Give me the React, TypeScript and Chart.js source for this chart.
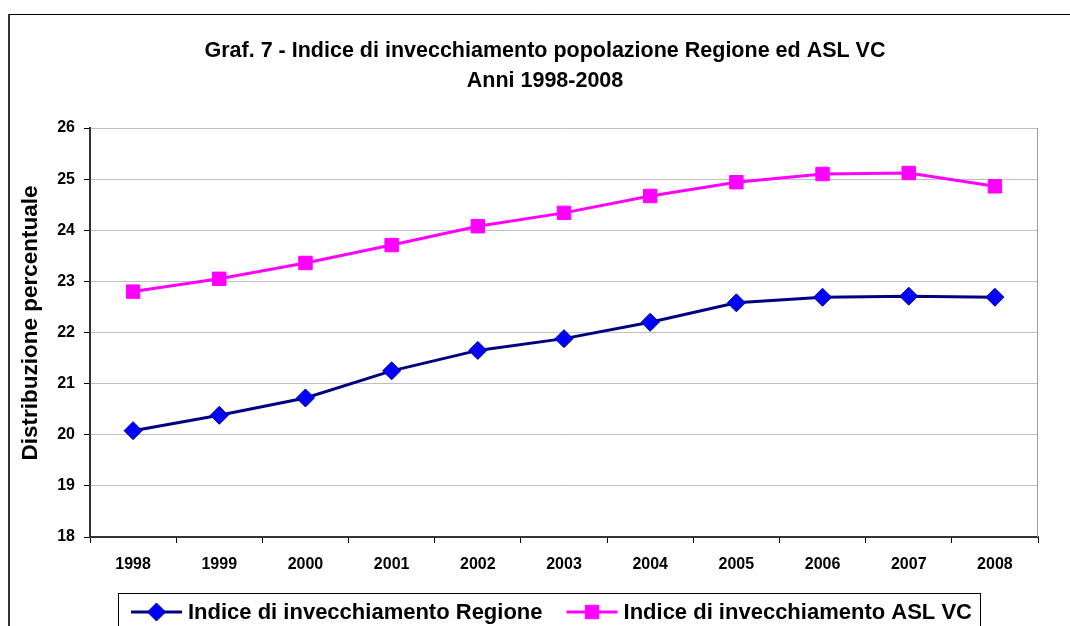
import { useEffect, useRef } from "react";
import { Chart, registerables } from "chart.js";

Chart.register(...registerables);

const categories = ["1998", "1999", "2000", "2001", "2002", "2003", "2004", "2005", "2006", "2007", "2008"];
const regioneValues = [20.08, 20.38, 20.72, 21.25, 21.65, 21.88, 22.2, 22.58, 22.69, 22.71, 22.69];
const aslValues = [22.8, 23.05, 23.36, 23.71, 24.08, 24.34, 24.67, 24.94, 25.1, 25.12, 24.86];
const seriesLabels = ["Indice di invecchiamento Regione", "Indice di invecchiamento ASL VC"];
const titleLines = ["Graf. 7 - Indice di invecchiamento popolazione Regione ed ASL VC", "Anni 1998-2008"];
const yAxisTitle = "Distribuzione percentuale";
const yMin = 18;
const yMax = 26;
const yStep = 1;

const FONT = '"Liberation Sans", Arial, Helvetica, sans-serif';

const frameAndLegendPlugin = {
  id: "frameAndLegend",
  beforeDraw(chart: any) {
    const ctx = chart.ctx;
    ctx.save();
    ctx.fillStyle = "#ffffff";
    ctx.fillRect(0, 0, chart.width, chart.height);
    ctx.strokeStyle = "#000000";
    ctx.lineWidth = 1;
    ctx.beginPath();
    ctx.moveTo(8.5, chart.height + 2);
    ctx.lineTo(8.5, 14.5);
    ctx.lineTo(chart.width + 2, 14.5);
    ctx.stroke();
    ctx.strokeStyle = "#333333";
    ctx.lineWidth = 2;
    ctx.beginPath();
    ctx.moveTo(9, chart.height + 2);
    ctx.lineTo(9, 15);
    ctx.stroke();

    // title
    ctx.fillStyle = "#000000";
    ctx.font = `bold 21.5px ${FONT}`;
    ctx.textAlign = "center";
    ctx.textBaseline = "middle";
    titleLines.forEach((line, i) => {
      ctx.fillText(line, 545, 51 + i * 30);
    });

    // y axis title
    const ca = chart.chartArea;
    ctx.font = `bold 22.5px ${FONT}`;
    ctx.translate(31, ca.top + 195);
    ctx.rotate(-Math.PI / 2);
    ctx.fillText(yAxisTitle, 0, 0);
    ctx.restore();
  },
  beforeDatasetsDraw(chart: any) {
    const ctx = chart.ctx;
    const ca = chart.chartArea;
    ctx.save();
    ctx.strokeStyle = "#a0a0a0";
    ctx.lineWidth = 1;
    ctx.beginPath();
    ctx.moveTo(Math.round(ca.right) - 0.5, ca.top);
    ctx.lineTo(Math.round(ca.right) - 0.5, ca.bottom);
    ctx.stroke();
    ctx.restore();
  },
  afterDraw(chart: any) {
    const ctx = chart.ctx;
    const ca = chart.chartArea;
    const ds = chart.data.datasets;
    ctx.save();
    ctx.font = `bold 22px ${FONT}`;
    const widths = ds.map((d: any) => ctx.measureText(d.label).width);
    const padL = 13, sym = 51, gap = 6, between = 24, padR = 8;
    let total = padL + padR + between * (ds.length - 1);
    widths.forEach((w: number) => (total += sym + gap + w));
    const left = Math.round(ca.left + 28);
    const top = Math.round(ca.bottom + 56);
    ctx.strokeStyle = "#000000";
    ctx.lineWidth = 1;
    ctx.strokeRect(left + 0.5, top + 0.5, Math.round(total), 100);
    const cy = top + 19;
    let x = left + padL;
    ds.forEach((d: any, i: number) => {
      ctx.strokeStyle = d.borderColor;
      ctx.lineWidth = d.borderWidth;
      ctx.beginPath();
      ctx.moveTo(x, cy);
      ctx.lineTo(x + sym, cy);
      ctx.stroke();
      const mx = x + sym / 2;
      const r = d.pointRadius;
      ctx.fillStyle = d.pointBackgroundColor;
      ctx.strokeStyle = d.pointBorderColor;
      ctx.lineWidth = 1;
      ctx.beginPath();
      if (d.pointStyle === "rectRot") {
        ctx.moveTo(mx - r, cy);
        ctx.lineTo(mx, cy - r);
        ctx.lineTo(mx + r, cy);
        ctx.lineTo(mx, cy + r);
        ctx.closePath();
      } else {
        const s = r * Math.SQRT1_2;
        ctx.rect(mx - s, cy - s, 2 * s, 2 * s);
      }
      ctx.fill();
      ctx.stroke();
      ctx.fillStyle = "#000000";
      ctx.textAlign = "left";
      ctx.textBaseline = "middle";
      ctx.fillText(d.label, x + sym + gap, cy + 1);
      x += sym + gap + widths[i] + between;
    });
    ctx.restore();
  },
};

export default function App() {
  const canvasRef = useRef<HTMLCanvasElement | null>(null);

  useEffect(() => {
    const canvas = canvasRef.current;
    if (!canvas) return;
    const chart = new Chart(canvas, {
      type: "line",
      data: {
        labels: categories,
        datasets: [
          {
            label: seriesLabels[0],
            data: regioneValues,
            borderColor: "#000080",
            backgroundColor: "#0000ff",
            borderWidth: 3,
            pointStyle: "rectRot",
            pointRadius: 9,
            pointHoverRadius: 9,
            pointBackgroundColor: "#0000ff",
            pointBorderColor: "#000080",
            pointBorderWidth: 1,
            tension: 0,
          },
          {
            label: seriesLabels[1],
            data: aslValues,
            borderColor: "#ff00ff",
            backgroundColor: "#ff00ff",
            borderWidth: 3,
            pointStyle: "rect",
            pointRadius: 9.5,
            pointHoverRadius: 9.5,
            pointBackgroundColor: "#ff00ff",
            pointBorderColor: "#ff00ff",
            pointBorderWidth: 1,
            tension: 0,
          },
        ],
      },
      options: {
        responsive: true,
        maintainAspectRatio: false,
        animation: false,
        layout: { padding: { top: 128, left: 0, right: 32, bottom: 49 } },
        plugins: {
          legend: { display: false },
          tooltip: { enabled: false },
          title: { display: false },
        },
        scales: {
          x: {
            type: "category",
            offset: true,
            grid: {
              display: true,
              drawOnChartArea: false,
              offset: true,
              tickLength: 6,
              tickColor: "#000000",
              tickWidth: 1,
            },
            border: { display: true, color: "#333333", width: 2 },
            ticks: {
              color: "#000000",
              font: { family: FONT, size: 16, weight: "bold" },
              padding: 12,
              maxRotation: 0,
              autoSkip: false,
            },
            afterFit: (scale: any) => {
              scale.height = 40;
            },
          },
          y: {
            min: yMin,
            max: yMax,
            grid: {
              color: "#c0c0c0",
              lineWidth: 1,
              tickLength: 6,
              tickColor: "#000000",
            },
            border: { display: true, color: "#333333", width: 2 },
            ticks: {
              stepSize: yStep,
              color: "#000000",
              font: { family: FONT, size: 16, weight: "bold" },
              padding: 9,
            },
            title: { display: false },
            afterFit: (scale: any) => {
              scale.width = 90;
            },
          },
        },
      },
      plugins: [frameAndLegendPlugin],
    });
    return () => {
      chart.destroy();
    };
  }, []);

  return (
    <div style={{ position: "fixed", left: 0, top: 0, width: 1070, height: 626, background: "#fff" }}>
      <canvas ref={canvasRef} />
    </div>
  );
}
